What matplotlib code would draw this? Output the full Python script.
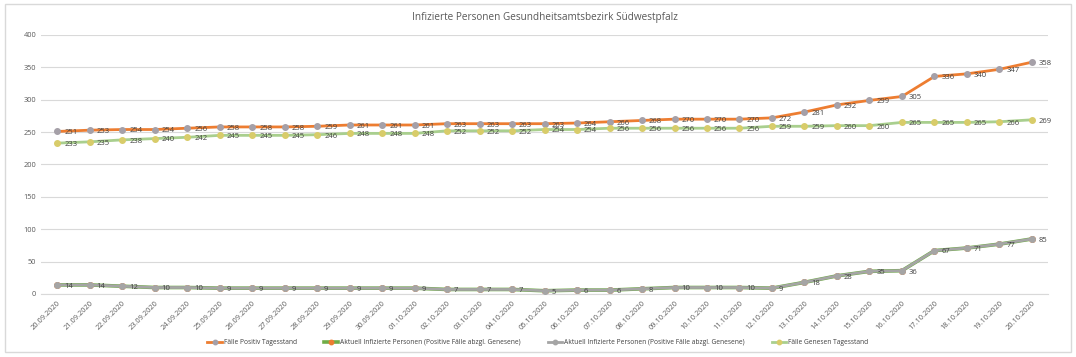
import matplotlib.pyplot as plt
from matplotlib.patches import Rectangle

plt.rcParams['font.family'] = ['Open Sans', 'DejaVu Sans']

dates = ['20.09.2020', '21.09.2020', '22.09.2020', '23.09.2020', '24.09.2020', '25.09.2020',
         '26.09.2020', '27.09.2020', '28.09.2020', '29.09.2020', '30.09.2020', '01.10.2020',
         '02.10.2020', '03.10.2020', '04.10.2020', '05.10.2020', '06.10.2020', '07.10.2020',
         '08.10.2020', '09.10.2020', '10.10.2020', '11.10.2020', '12.10.2020', '13.10.2020',
         '14.10.2020', '15.10.2020', '16.10.2020', '17.10.2020', '18.10.2020', '19.10.2020',
         '20.10.2020']
positiv = [251, 253, 254, 254, 256, 258, 258, 258, 259, 261, 261, 261, 263, 263, 263, 263,
           264, 266, 268, 270, 270, 270, 272, 281, 292, 299, 305, 336, 340, 347, 358]
aktuell = [14, 14, 12, 10, 10, 9, 9, 9, 9, 9, 9, 9, 7, 7, 7, 5,
           6, 6, 8, 10, 10, 10, 9, 18, 28, 35, 36, 67, 71, 77, 85]
genesen = [233, 235, 238, 240, 242, 245, 245, 245, 246, 248, 248, 248, 252, 252, 252, 254,
           254, 256, 256, 256, 256, 256, 259, 259, 260, 260, 265, 265, 265, 266, 269]

fig = plt.figure(figsize=(10.76, 3.57), dpi=100)
fig.patches.append(Rectangle((0.005, 0.013), 0.99, 0.975, transform=fig.transFigure,
                             fill=False, edgecolor='#d9d9d9', lw=1))
ax = fig.add_axes([0.0381, 0.1765, 0.936, 0.7255])

x = list(range(len(dates)))
ms = 4
ax.plot(x, positiv, color='#ed7d31', lw=2, marker='o', ms=ms, mfc='#a5a0a8', mec='#a5a0a8',
        label='Fälle Positiv Tagesstand', zorder=3)
ax.plot(x, aktuell, color='#70ad47', lw=2.6, marker='o', ms=ms, mfc='#ed7d31', mec='#ed7d31',
        label='Aktuell Infizierte Personen (Positive Fälle abzgl. Genesene)', zorder=2)
ax.plot(x, aktuell, color='#a5a5a5', lw=2, marker='o', ms=ms, mfc='#a5a5a5', mec='#a5a5a5',
        label='Aktuell Infizierte Personen (Positive Fälle abzgl. Genesene)', zorder=3)
ax.plot(x, genesen, color='#a9cf8e', lw=2, marker='o', ms=ms, mfc='#d8cc6a', mec='#d8cc6a',
        label='Fälle Genesen Tagesstand', zorder=3)

for series in (positiv, aktuell, genesen):
    for xi, v in zip(x, series):
        ax.annotate(str(v), (xi, v), xytext=(5, -1), textcoords='offset points',
                    fontsize=5.5, color='#404040', va='center', ha='left', zorder=4)

ax.set_xlim(-0.5, len(dates) - 0.5)
ax.set_ylim(0, 400)
ax.set_yticks(range(0, 401, 50))
ax.grid(axis='y', color='#d9d9d9', lw=0.8)
ax.set_axisbelow(True)
for s in ['top', 'right', 'left']:
    ax.spines[s].set_visible(False)
ax.spines['bottom'].set_color('#d9d9d9')
ax.set_xticks(x)
ax.set_xticklabels(dates, rotation=45, ha='right', rotation_mode='anchor')
ax.tick_params(axis='both', length=0, labelsize=5.3, labelcolor='#595959')
ax.tick_params(axis='x', pad=4)

ax.set_title('Infizierte Personen Gesundheitsamtsbezirk Südwestpfalz', fontsize=7.2,
             color='#595959', pad=11)

fig.legend(loc='center', bbox_to_anchor=(0.5, 0.04), ncol=4, frameon=False, fontsize=4.8,
           handlelength=2.2, handletextpad=0.3, columnspacing=4, labelcolor='#404040',
           markerscale=0.8)

fig.savefig('out.png', dpi=100)
